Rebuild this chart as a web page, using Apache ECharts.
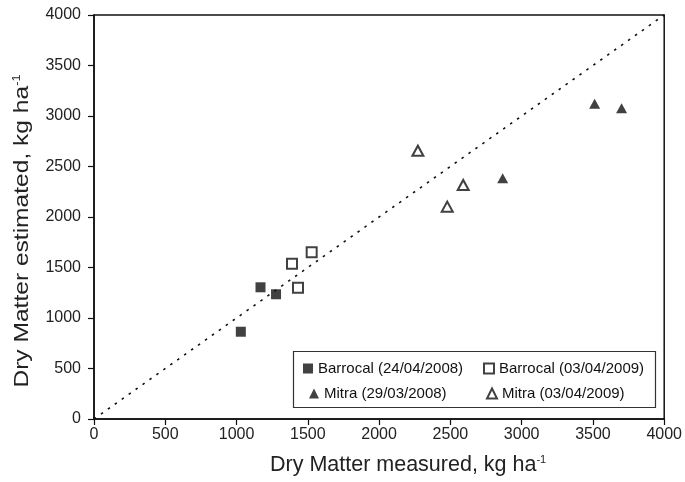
<!DOCTYPE html>
<html>
<head>
<meta charset="utf-8">
<script src="https://cdn.jsdelivr.net/npm/echarts@6/dist/echarts.min.js"></script>
<style>html,body{margin:0;padding:0;background:#fff}#c{width:685px;height:482px}</style>
</head>
<body>
<div id="c"></div>
<script>
// Data
const seriesNames = ['Barrocal (24/04/2008)', 'Barrocal (03/04/2009)', 'Mitra (29/03/2008)', 'Mitra (03/04/2009)'];
const barrocal2008 = [[1030, 864], [1168, 1304], [1277, 1235]];
const barrocal2009 = [[1389, 1538], [1527, 1650], [1431, 1300]];
const mitra2008 = [[3512, 3122], [3701, 3076], [2867, 2383]];
const mitra2009 = [[2272, 2656], [2590, 2317], [2478, 2102]];
const oneToOne = [[0, 0], [4000, 4000]];
const xTicks = [0, 500, 1000, 1500, 2000, 2500, 3000, 3500, 4000];
const yTicks = [0, 500, 1000, 1500, 2000, 2500, 3000, 3500, 4000];
const xTitle = 'Dry Matter measured, kg ha{sup|-1}';
const yTitle = 'Dry Matter estimated, kg ha{sup|-1}';

const INK = '#111';
const FONT = 'Liberation Sans, Arial, sans-serif';
const filled = { color: INK };
const open = { color: '#fff', borderColor: INK, borderWidth: 2 };
const supStyle = { fontSize: 11, verticalAlign: 'top', lineHeight: 11, color: '#222', fontFamily: FONT };

const chart = echarts.init(document.getElementById('c'), null, { renderer: 'canvas' });

function legendAt(name, left, top, icon, style) {
  return {
    data: [{ name: name, icon: icon, itemStyle: style }],
    left: left, top: top, padding: 0, itemWidth: 10, itemHeight: 10, itemGap: 0,
    textStyle: { fontSize: 15, color: INK, fontFamily: FONT, padding: [0, 0, 0, 0] },
    selectedMode: false
  };
}

const plain = v => String(v);

const option = {
  animation: false,
  backgroundColor: '#fff',
  grid: { left: 94, right: 20, top: 15, bottom: 63, show: true, borderColor: INK, borderWidth: 1.5, containLabel: false },
  xAxis: {
    type: 'value', min: xTicks[0], max: xTicks[xTicks.length - 1], interval: xTicks[1] - xTicks[0],
    name: xTitle, nameLocation: 'middle', nameGap: 35,
    nameTextStyle: { fontSize: 21.5, color: '#222', fontFamily: FONT, padding: [0, 0, 0, 58],
      rich: { sup: supStyle } },
    axisLine: { lineStyle: { color: INK, width: 1.5 } },
    axisTick: { show: true, length: 6, inside: false, lineStyle: { color: INK, width: 1.2 } },
    axisLabel: { fontSize: 16, color: '#222', fontFamily: FONT, margin: 8, formatter: plain },
    splitLine: { show: false }
  },
  yAxis: {
    type: 'value', min: yTicks[0], max: yTicks[yTicks.length - 1], interval: yTicks[1] - yTicks[0],
    axisLine: { lineStyle: { color: INK, width: 1.5 } },
    axisTick: { show: true, length: 6, inside: false, lineStyle: { color: INK, width: 1.2 } },
    axisLabel: { fontSize: 16, color: '#222', fontFamily: FONT, margin: 13, formatter: plain },
    splitLine: { show: false }
  },
  legend: [
    legendAt(seriesNames[0], 303, 361, 'rect', filled),
    legendAt(seriesNames[1], 483, 361, 'rect', open),
    legendAt(seriesNames[2], 309, 386, 'triangle', filled),
    legendAt(seriesNames[3], 486, 386, 'triangle', open)
  ],
  graphic: [{
    type: 'rect', shape: { x: 293.5, y: 351.5, width: 362, height: 56 },
    style: { fill: 'none', stroke: '#333', lineWidth: 1.2 }, z: 5
  }, {
    type: 'text', x: 22, y: 231, rotation: Math.PI / 2, scaleX: 1.17, scaleY: 1,
    style: { text: yTitle, fontSize: 21, fill: '#222', fontFamily: FONT, align: 'center', verticalAlign: 'middle',
      rich: { sup: supStyle } }
  }],
  series: [
    {
      type: 'line', data: oneToOne, showSymbol: false, symbol: 'none', silent: true,
      lineStyle: { color: INK, width: 1.6, type: [2.5, 6] }, z: 1
    },
    { name: seriesNames[0], type: 'scatter', symbol: 'rect', symbolSize: 10, data: barrocal2008, itemStyle: filled, z: 3 },
    { name: seriesNames[1], type: 'scatter', symbol: 'rect', symbolSize: 10, data: barrocal2009, itemStyle: open, z: 3 },
    { name: seriesNames[2], type: 'scatter', symbol: 'triangle', symbolSize: [11, 10], data: mitra2008, itemStyle: filled, z: 3 },
    { name: seriesNames[3], type: 'scatter', symbol: 'triangle', symbolSize: [11, 10], data: mitra2009, itemStyle: open, z: 3 }
  ]
};
chart.setOption(option);
</script>
</body>
</html>
